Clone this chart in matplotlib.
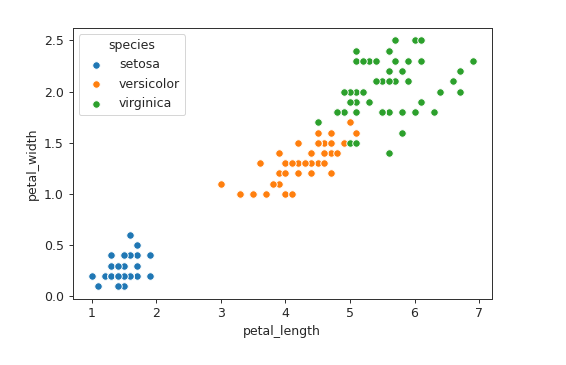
import matplotlib
matplotlib.use("Agg")
import matplotlib.pyplot as plt

species_names = ["setosa", "versicolor", "virginica"]
colors = ["#1f77b4", "#ff7f0e", "#2ca02c"]

setosa_length = [1.4, 1.4, 1.3, 1.5, 1.4, 1.7, 1.4, 1.5, 1.4, 1.5, 1.5, 1.6, 1.4, 1.1, 1.2, 1.5, 1.3, 1.4, 1.7, 1.5,
                 1.7, 1.5, 1.0, 1.7, 1.9, 1.6, 1.6, 1.5, 1.4, 1.6, 1.6, 1.5, 1.5, 1.4, 1.5, 1.2, 1.3, 1.4, 1.3, 1.5,
                 1.3, 1.3, 1.3, 1.6, 1.9, 1.4, 1.6, 1.4, 1.5, 1.4]
setosa_width = [0.2, 0.2, 0.2, 0.2, 0.2, 0.4, 0.3, 0.2, 0.2, 0.1, 0.2, 0.2, 0.1, 0.1, 0.2, 0.4, 0.4, 0.3, 0.3, 0.3,
                0.2, 0.4, 0.2, 0.5, 0.2, 0.2, 0.4, 0.2, 0.2, 0.2, 0.2, 0.4, 0.1, 0.2, 0.2, 0.2, 0.2, 0.1, 0.2, 0.2,
                0.3, 0.3, 0.2, 0.6, 0.4, 0.3, 0.2, 0.2, 0.2, 0.2]

versicolor_length = [4.7, 4.5, 4.9, 4.0, 4.6, 4.5, 4.7, 3.3, 4.6, 3.9, 3.5, 4.2, 4.0, 4.7, 3.6, 4.4, 4.5, 4.1, 4.5, 3.9,
                     4.8, 4.0, 4.9, 4.7, 4.3, 4.4, 4.8, 5.0, 4.5, 3.5, 3.8, 3.7, 3.9, 5.1, 4.5, 4.5, 4.7, 4.4, 4.1, 4.0,
                     4.4, 4.6, 4.0, 3.3, 4.2, 4.2, 4.2, 4.3, 3.0, 4.1]
versicolor_width = [1.4, 1.5, 1.5, 1.3, 1.5, 1.3, 1.6, 1.0, 1.3, 1.4, 1.0, 1.5, 1.0, 1.4, 1.3, 1.4, 1.5, 1.0, 1.5, 1.1,
                    1.8, 1.3, 1.5, 1.2, 1.3, 1.4, 1.4, 1.7, 1.5, 1.0, 1.1, 1.0, 1.2, 1.6, 1.5, 1.6, 1.5, 1.3, 1.3, 1.3,
                    1.2, 1.4, 1.2, 1.0, 1.3, 1.2, 1.3, 1.3, 1.1, 1.3]

virginica_length = [6.0, 5.1, 5.9, 5.6, 5.8, 6.6, 4.5, 6.3, 5.8, 6.1, 5.1, 5.3, 5.5, 5.0, 5.1, 5.3, 5.5, 6.7, 6.9, 5.0,
                    5.7, 4.9, 6.7, 4.9, 5.7, 6.0, 4.8, 4.9, 5.6, 5.8, 6.1, 6.4, 5.6, 5.1, 5.6, 6.1, 5.6, 5.5, 4.8, 5.4,
                    5.6, 5.1, 5.1, 5.9, 5.7, 5.2, 5.0, 5.2, 5.4, 5.1]
virginica_width = [2.5, 1.9, 2.1, 1.8, 2.2, 2.1, 1.7, 1.8, 1.8, 2.5, 2.0, 1.9, 2.1, 2.0, 2.4, 2.3, 1.8, 2.2, 2.3, 1.5,
                   2.3, 2.0, 2.0, 1.8, 2.1, 1.8, 1.8, 1.8, 2.1, 1.6, 1.9, 2.0, 2.2, 1.5, 1.4, 2.3, 2.4, 1.8, 1.8, 2.1,
                   2.4, 2.3, 1.9, 2.3, 2.5, 2.3, 1.9, 2.0, 2.3, 1.8]

lengths = [setosa_length, versicolor_length, virginica_length]
widths = [setosa_width, versicolor_width, virginica_width]

k = 1.25
txt = "#262626"
fig = plt.figure(figsize=(566 / 72, 365 / 72), dpi=72)
ax = fig.add_axes([72.7 / 566, 1 - 298.5 / 365, (491.7 - 72.7) / 566, (298.5 - 28) / 365])

for name, c, xs, ys in zip(species_names, colors, lengths, widths):
    ax.scatter(xs, ys, s=36 * k * k, color=c, edgecolor="white", linewidth=0.75 * k, label=name)

ax.set_xlim(0.705, 7.195)
ax.set_ylim(-0.02, 2.62)
ax.set_xticks([1, 2, 3, 4, 5, 6, 7])
ax.set_yticks([0.0, 0.5, 1.0, 1.5, 2.0, 2.5])
fs = 10 * k
ax.set_xlabel("petal_length", fontsize=fs, color=txt, labelpad=4 * k)
ax.set_ylabel("petal_width", fontsize=fs, color=txt, labelpad=4 * k)
ax.tick_params(labelsize=fs, labelcolor=txt, length=3.5 * k, width=0.8 * k, pad=3.5 * k, color="#333333")
for sp in ax.spines.values():
    sp.set_linewidth(0.8 * k)
    sp.set_color("#333333")
leg = ax.legend(title="species", loc="upper left", fontsize=fs, title_fontsize=fs)
for t in leg.get_texts():
    t.set_color(txt)
leg.get_title().set_color(txt)

fig.savefig("out.png", dpi=72)
